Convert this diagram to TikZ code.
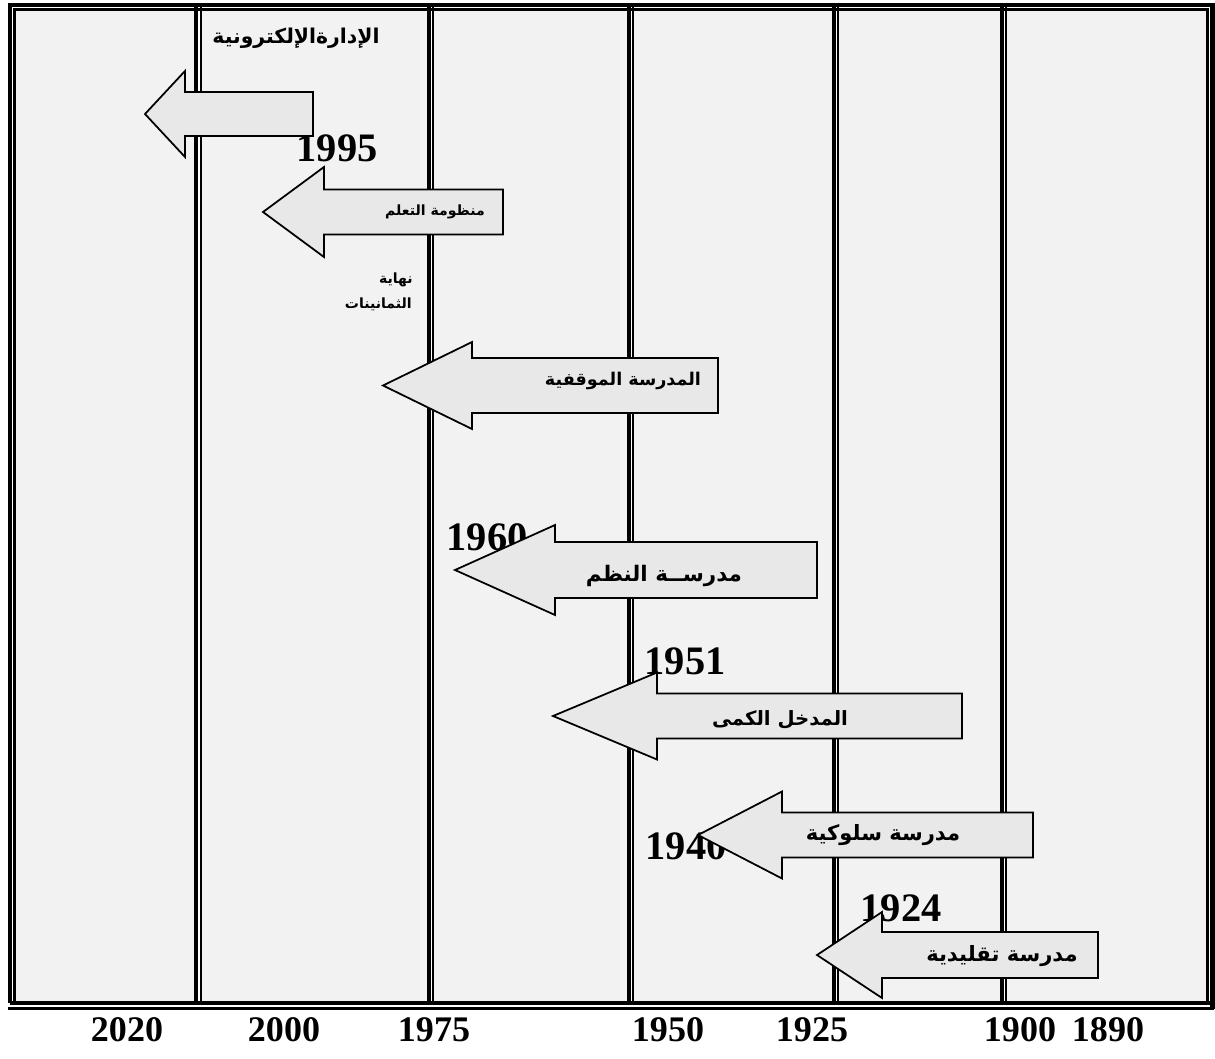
\documentclass[tikz,border=0pt]{standalone}
\usepackage{fontspec}
\setmainfont{Liberation Serif}
\newfontfamily\arabicfont[Script=Arabic]{DejaVu Sans}
\TeXXeTstate=1
\usetikzlibrary{calc}
\definecolor{cellgray}{HTML}{F2F2F2}
\definecolor{arrowgray}{HTML}{E8E8E8}

\begin{document}
\begin{tikzpicture}[x=0.02cm, y=-0.02cm,
	year/.style={font=\bfseries\fontsize{23}{23}\selectfont, inner sep=0pt},
	axisyear/.style={font=\bfseries\fontsize{20.5}{20.5}\selectfont, inner sep=0pt},
	school/.style={font=\arabicfont\bfseries\fontsize{#1}{#1}\selectfont, inner sep=0pt},
	school/.default=12,
	thickrule/.style={line width=2.4pt},
	thinrule/.style={line width=1.2pt},
	blockarrow/.style={draw, fill=arrowgray, line width=1pt, line join=miter}]
			\newcommand{\LeftArrow}[6]{
				\draw[blockarrow] (#1,#2) -- (#3,#2-#4) -- (#3,#2-#5) -- (#6,#2-#5) -- (#6,#2+#5) -- (#3,#2+#5) -- (#3,#2+#4) -- cycle;
			}

			\useasboundingbox (0,0) rectangle (1215,1059);
			\fill[white] (0,0) rectangle (1215,1059);

			\foreach \l/\r in {14.5/196, 201/429, 433/629, 633/834, 838/1002, 1006/1207.5}
				\fill[cellgray] (\l,9.5) rectangle (\r,1003);

			\draw[thickrule] (8,5) -- (1214,5);
			\draw[thickrule] (10,3) -- (10,1003);
			\draw[thickrule] (1212.5,3) -- (1212.5,1009);
			\draw[thickrule] (10,1003) -- (1212.5,1003);
			\draw[thinrule] (8,1008.5) -- (1214,1008.5);
			\draw[thinrule] (14.5,1003) -- (14.5,9.5) -- (1207.5,9.5) -- (1207.5,1003);

			\foreach \k/\n in {196/201, 429/433, 629/633, 834/838, 1002/1006} {
				\draw[thickrule] (\k,7) -- (\k,1003);
				\draw[thinrule] (\n,7) -- (\n,1003);
			}

			\node (y1995) [year] at (337,148) {1995};
			\node (y1960) [year] at (487,537) {1960};
			\node (y1951) [year] at (685,661) {1951};
			\node (y1940) [year] at (686,846) {1940};
			\node (y1924) [year] at (901,908) {1924};

			\LeftArrow{145}{114}{185}{43}{22}{313}
			\LeftArrow{263}{212}{324}{45}{22.5}{503}
			\LeftArrow{383}{385.5}{472}{43.5}{27.5}{718}
			\LeftArrow{455}{570}{555}{45}{28}{817}
			\LeftArrow{553}{716}{657}{43.5}{22.5}{962}
			\LeftArrow{698}{835}{782}{43.5}{22.5}{1033}
			\LeftArrow{817}{955}{882}{43}{23}{1098}

			\node (eadmin) [school=11.6] at (296,38) {\beginR الإدارةالإلكترونية\endR};
			\node (learning) [school=8] at (435,212) {\beginR منظومة التعلم\endR};
			\node (lateeighties) [school=8, anchor=east] at (413,280) {\beginR نهاية\endR};
			\node (eighties) [school=8, anchor=east] at (412,304) {\beginR الثمانينات\endR};
			\node (contingency) [school=10] at (623,381) {\beginR المدرسة الموقفية\endR};
			\node (systems) [school=12.2] at (664,576) {\beginR مدرســة النظم\endR};
			\node (quantitative) [school=11.2] at (780,720) {\beginR المدخل الكمى\endR};
			\node (behavioral) [school=12] at (883,835) {\beginR مدرسة سلوكية\endR};
			\node (classical) [school=12] at (1002,956) {\beginR مدرسة تقليدية\endR};

			\foreach \yr/\xp in {2020/127, 2000/284, 1975/434, 1950/668, 1925/812, 1900/1020, 1890/1108}
				\node (axis\yr) [axisyear] at (\xp,1030) {\yr};
		\end{tikzpicture}
\end{document}
